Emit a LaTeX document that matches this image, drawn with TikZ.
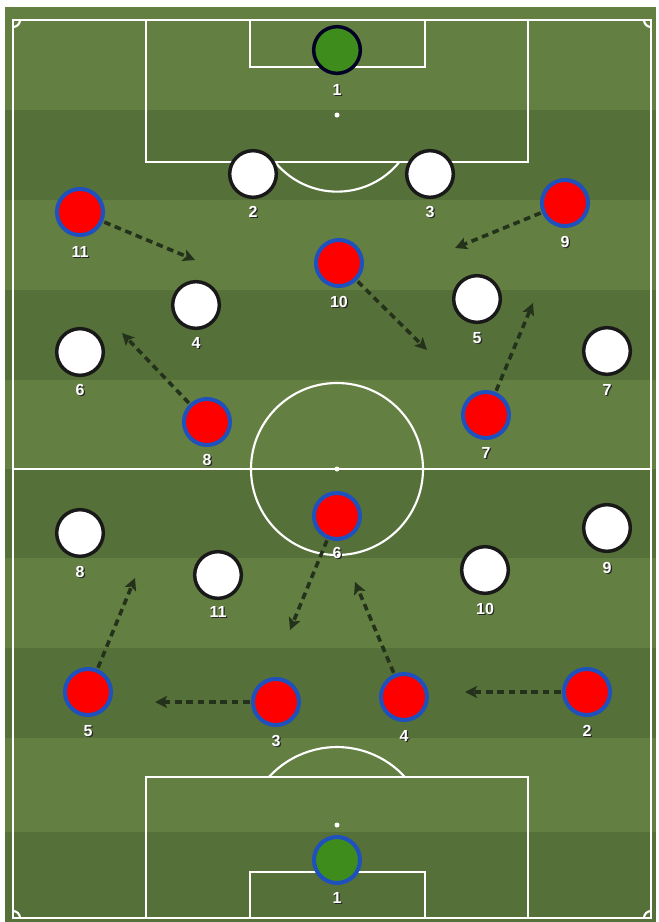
\documentclass[tikz,border=0pt]{standalone}
\usepackage{fontspec}
\setmainfont{Liberation Sans}
\usetikzlibrary{arrows.meta}
\definecolor{grlight}{RGB}{99,127,65}
\definecolor{grdark}{RGB}{86,112,57}
\definecolor{kblue}{RGB}{30,80,190}
\definecolor{kgreen}{RGB}{62,140,28}
\definecolor{arrowc}{RGB}{36,50,28}
\tikzset{
  pline/.style={white, line width=1.6pt},
  redp/.style={circle, fill=red, draw=kblue, line width=3pt, minimum size=34.5pt, inner sep=0pt},
  whitep/.style={circle, fill=white, draw=black!90, line width=2.6pt, minimum size=35pt, inner sep=0pt},
  gkw/.style={circle, fill=kgreen, draw=black!85!blue, line width=2.6pt, minimum size=35pt, inner sep=0pt},
  gkr/.style={circle, fill=kgreen, draw=kblue, line width=3pt, minimum size=34.5pt, inner sep=0pt},
  numlab/.style={text=white, font=\bfseries\fontsize{12}{13}\selectfont, inner sep=0pt},
  numshadow/.style={text=black!85, font=\bfseries\fontsize{12}{13}\selectfont, inner sep=0pt},
  runarrow/.style={draw=arrowc, line width=2.7pt, dash pattern=on 5pt off 3.5pt, -{Stealth[length=9pt,width=9pt,inset=2pt]}, shorten <=1pt}
}
\newcommand{\plyr}[6]{% name, x, y, style, number, label y
  \node[#4] (#1) at (#2,#3) {};
  \node[numshadow] (#1s) at ([xshift=0.9pt,yshift=-0.9pt]#2,#6) {#5};
  \node[numlab] (#1l) at (#2,#6) {#5};
}
\begin{document}
\begin{tikzpicture}[x=0.75pt,y=-0.75pt]
\useasboundingbox (0,0) rectangle (659,922);
\fill[white] (0,0) rectangle (659,922);
% stripes
\fill[grlight] (5,7) rectangle (656,110);
\fill[grdark] (5,110) rectangle (656,200);
\fill[grlight] (5,200) rectangle (656,290);
\fill[grdark] (5,290) rectangle (656,380);
\fill[grlight] (5,380) rectangle (656,469);
\fill[grdark] (5,469) rectangle (656,558);
\fill[grlight] (5,558) rectangle (656,648);
\fill[grdark] (5,648) rectangle (656,738);
\fill[grlight] (5,738) rectangle (656,832);
\fill[grdark] (5,832) rectangle (656,922);
% pitch lines
\draw[pline] (13,20) rectangle (651,918);
\draw[pline] (13,469) -- (651,469);
\draw[pline] (337,469) circle (86);
\fill[white] (337,469) circle (2.5);
% top
\draw[pline] (146,20) rectangle (528,162);
\draw[pline] (250,20) rectangle (425,67);
\fill[white] (337,115) circle (2.5);
\draw[pline] (275,162) arc[start angle=141, end angle=39, radius=80];
% bottom
\draw[pline] (146,777) rectangle (528,918);
\draw[pline] (250,872) rectangle (425,918);
\fill[white] (337,825) circle (2.5);
\draw[pline] (269,777) arc[start angle=-137.6, end angle=-42.4, radius=92];
% corners
\draw[pline] (20,20) arc[start angle=0, end angle=90, radius=7];
\draw[pline] (644,20) arc[start angle=180, end angle=90, radius=7];
\draw[pline] (20,918) arc[start angle=0, end angle=-90, radius=7];
\draw[pline] (644,918) arc[start angle=180, end angle=270, radius=7];
% white team
\plyr{wone}{337}{50}{gkw}{1}{90}
\plyr{wtwo}{253}{174}{whitep}{2}{212}
\plyr{wthree}{430}{174}{whitep}{3}{212}
\plyr{wfour}{196}{305}{whitep}{4}{343}
\plyr{wfive}{477}{299}{whitep}{5}{338}
\plyr{wsix}{80}{352}{whitep}{6}{390}
\plyr{wseven}{607}{351}{whitep}{7}{390}
\plyr{weight}{80}{533}{whitep}{8}{572}
\plyr{weleven}{218}{575}{whitep}{11}{612}
\plyr{wten}{485}{570}{whitep}{10}{609}
\plyr{wnine}{607}{528}{whitep}{9}{568}
% red team
\plyr{releven}{80}{212}{redp}{11}{252}
\plyr{rnine}{565}{203}{redp}{9}{242}
\plyr{rten}{339}{263}{redp}{10}{302}
\plyr{reight}{207}{422}{redp}{8}{460}
\plyr{rseven}{486}{415}{redp}{7}{453}
\plyr{rsix}{337}{516}{redp}{6}{553}
\plyr{rfive}{88}{692}{redp}{5}{731}
\plyr{rthree}{276}{702}{redp}{3}{741}
\plyr{rfour}{404}{697}{redp}{4}{736}
\plyr{rtwo}{587}{692}{redp}{2}{731}
\plyr{rone}{337}{860}{gkr}{1}{898}
% arrow targets
\coordinate (eleven) at (195,260);
\coordinate (nine) at (455,248);
\coordinate (ten) at (427,350);
\coordinate (eight) at (122,333);
\coordinate (seven) at (533,303);
\coordinate (six) at (290,630);
\coordinate (four) at (355,582);
\coordinate (five) at (135,578);
\coordinate (three) at (155,702);
\coordinate (two) at (465,692);
\draw[runarrow] (releven) -- (eleven);
\draw[runarrow] (rnine) -- (nine);
\draw[runarrow] (rten) -- (ten);
\draw[runarrow] (reight) -- (eight);
\draw[runarrow] (rseven) -- (seven);
\draw[runarrow] (rsix) -- (six);
\draw[runarrow] (rfour) -- (four);
\draw[runarrow] (rfive) -- (five);
\draw[runarrow] (rthree) -- (three);
\draw[runarrow] (rtwo) -- (two);
\end{tikzpicture}
\end{document}
